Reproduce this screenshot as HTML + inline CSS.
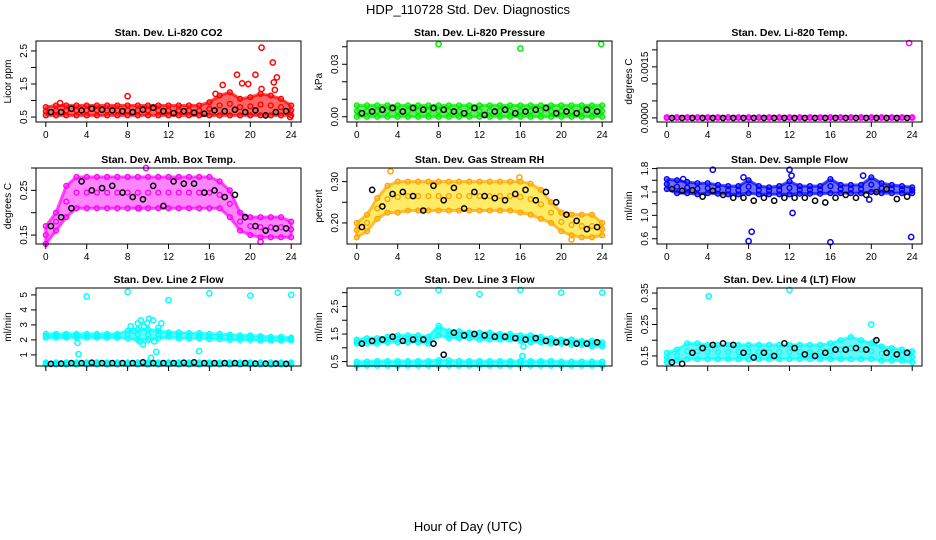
<!DOCTYPE html>
<html><head><meta charset="utf-8"><style>
html,body{margin:0;padding:0;background:#fff;}
svg{display:block;font-family:"Liberation Sans",Arial,sans-serif;}
</style></head><body>
<svg id="chart" width="936" height="540" viewBox="0 0 936 540">
<text x="468" y="14" text-anchor="middle" font-size="13">HDP_110728  Std. Dev. Diagnostics</text>
<text x="468" y="531" text-anchor="middle" font-size="13">Hour of Day (UTC)</text>
</svg>
<script>
const bandHours=[0,1,2,3,4,5,6,7,8,9,10,11,12,13,14,15,16,17,18,19,20,21,22,23,24];
const blackHours=[0.5,1.5,2.5,3.5,4.5,5.5,6.5,7.5,8.5,9.5,10.5,11.5,12.5,13.5,14.5,15.5,16.5,17.5,18.5,19.5,20.5,21.5,22.5,23.5];
const xTicks=[0,4,8,12,16,20,24];

const p1Lo=[0.55,0.55,0.55,0.55,0.55,0.55,0.55,0.55,0.55,0.55,0.55,0.55,0.55,0.55,0.55,0.55,0.55,0.55,0.55,0.55,0.55,0.55,0.55,0.55,0.55];
const p1Hi=[0.8,0.85,0.85,0.85,0.85,0.85,0.85,0.85,0.85,0.85,0.85,0.85,0.85,0.85,0.85,0.85,0.95,1.15,1.25,1.05,1.1,1.2,1.15,1.05,0.85];
const p1Black=[0.65,0.65,0.75,0.7,0.75,0.72,0.7,0.68,0.65,0.72,0.78,0.68,0.62,0.68,0.63,0.6,0.7,0.68,0.72,0.65,0.7,0.55,0.65,0.68];
const p1OutX=[1.4,8,16.6,17.3,18.7,19.2,19.8,20.5,21.1,21.1,22.2,22.3,22.6,22.4,23.9];
const p1OutY=[0.92,1.13,1.2,1.47,1.78,1.52,1.5,1.78,2.6,1.35,2.15,1.55,1.7,1.32,0.5];

const p2Lo=[0,0,0,0,0,0,0,0,0,0,0,0,0,0,0,0,0,0,0,0,0,0,0,0,0];
const p2Hi=[0.0065,0.0065,0.0065,0.0065,0.0065,0.0065,0.0065,0.0065,0.0065,0.0065,0.0065,0.0065,0.0065,0.0065,0.0065,0.0065,0.0065,0.0065,0.0065,0.0065,0.0065,0.0065,0.0065,0.0065,0.0065];
const p2Black=[0.002,0.003,0.004,0.005,0.003,0.005,0.004,0.005,0.004,0.003,0.002,0.005,0.001,0.003,0.004,0.002,0.003,0.004,0.005,0.002,0.003,0.002,0.004,0.003];
const p2OutX=[8,16,23.9];
const p2OutY=[0.0415,0.039,0.0415];

const p3Lo=[0,0,0,0,0,0,0,0,0,0,0,0,0,0,0,0,0,0,0,0,0,0,0,0,0];
const p3Hi=[0.00002,0.00002,0.00002,0.00002,0.00002,0.00002,0.00002,0.00002,0.00002,0.00002,0.00002,0.00002,0.00002,0.00002,0.00002,0.00002,0.00002,0.00002,0.00002,0.00002,0.00002,0.00002,0.00002,0.00002,0.00002];
const p3Black=[0,0,0,0,0,0,0,0,0,0,0,0,0,0,0,0,0,0,0,0,0,0,0,0];
const p3OutX=[23.7];
const p3OutY=[0.0022];

const p4Lo=[0.13,0.16,0.19,0.21,0.21,0.21,0.21,0.21,0.21,0.21,0.21,0.21,0.21,0.21,0.21,0.21,0.21,0.21,0.19,0.16,0.15,0.145,0.145,0.145,0.145];
const p4Hi=[0.17,0.2,0.26,0.28,0.28,0.28,0.28,0.28,0.28,0.28,0.28,0.28,0.28,0.28,0.28,0.28,0.28,0.27,0.25,0.2,0.19,0.19,0.19,0.19,0.18];
const p4Black=[0.17,0.19,0.21,0.27,0.25,0.255,0.26,0.245,0.235,0.23,0.26,0.215,0.27,0.265,0.265,0.245,0.25,0.235,0.24,0.19,0.17,0.16,0.165,0.165];
const p4OutX=[9.8,21,9.1];
const p4OutY=[0.30,0.135,0.21];

const p5Lo=[0.165,0.18,0.21,0.225,0.225,0.23,0.23,0.23,0.23,0.23,0.23,0.23,0.23,0.23,0.23,0.23,0.225,0.22,0.21,0.2,0.18,0.17,0.165,0.165,0.17];
const p5Hi=[0.2,0.22,0.26,0.29,0.3,0.3,0.3,0.3,0.3,0.3,0.3,0.3,0.3,0.3,0.3,0.3,0.3,0.295,0.28,0.25,0.225,0.22,0.22,0.22,0.2];
const p5Black=[0.19,0.28,0.24,0.27,0.275,0.265,0.23,0.29,0.255,0.285,0.235,0.275,0.265,0.26,0.255,0.27,0.28,0.255,0.275,0.25,0.22,0.205,0.185,0.19];
const p5OutX=[3.3,15.9,21];
const p5OutY=[0.325,0.31,0.16];

const p6Lo=[1.45,1.38,1.38,1.36,1.38,1.37,1.36,1.36,1.38,1.36,1.36,1.36,1.36,1.37,1.37,1.37,1.38,1.38,1.38,1.38,1.4,1.38,1.38,1.38,1.38];
const p6Hi=[1.62,1.6,1.57,1.55,1.55,1.52,1.5,1.5,1.6,1.5,1.48,1.5,1.58,1.5,1.5,1.5,1.62,1.52,1.52,1.52,1.65,1.55,1.52,1.5,1.48];
const p6Black=[1.45,1.42,1.43,1.32,1.42,1.35,1.3,1.3,1.25,1.3,1.25,1.3,1.3,1.3,1.25,1.22,1.3,1.35,1.3,1.35,1.4,1.45,1.28,1.32];
const p6OutX=[4.5,7.5,8,8.3,12,12.2,12.3,16,19.2,23.9,19.8,1.6];
const p6OutY=[1.78,1.65,0.56,0.72,1.78,1.68,1.04,0.54,1.68,0.63,1.27,1.62];

const p7Lo=[2.15,2.15,2.15,2.15,2.15,2.15,2.15,2.15,2.1,2.0,2.0,2.1,2.2,2.1,2.1,2.1,2.05,2.05,2.0,2.0,2.0,1.95,1.95,1.95,1.95];
const p7Hi=[2.4,2.4,2.4,2.4,2.4,2.4,2.4,2.4,2.6,2.7,2.7,2.6,2.5,2.5,2.45,2.45,2.4,2.4,2.35,2.3,2.3,2.25,2.2,2.2,2.15];
const p7Lo2=[0.35,0.35,0.35,0.35,0.35,0.35,0.35,0.35,0.35,0.35,0.35,0.35,0.35,0.35,0.35,0.35,0.35,0.35,0.35,0.35,0.35,0.35,0.35,0.35,0.35];
const p7Hi2=[0.5,0.5,0.5,0.5,0.5,0.5,0.5,0.5,0.5,0.5,0.5,0.5,0.5,0.5,0.5,0.5,0.5,0.5,0.5,0.5,0.5,0.5,0.5,0.5,0.5];
const p7Black=[0.4,0.42,0.45,0.45,0.48,0.45,0.45,0.45,0.45,0.5,0.45,0.45,0.45,0.48,0.5,0.45,0.45,0.45,0.45,0.45,0.42,0.42,0.42,0.4];
const p7OutX=[4,8,12,16,20,24,3.2,3.1,10.3,10.8,15,8.3,8.6,9,9.3,9.6,9.9,10.1,10.5,11,11.3,9.5,9.2,10.6];
const p7OutY=[4.9,5.2,4.65,5.1,4.95,5.0,1.05,1.8,0.8,1.2,1.25,2.9,2.6,3.1,3.3,2.9,3.1,3.4,3.3,2.8,3.1,1.7,1.9,1.9];

const p8Lo=[0.35,0.35,0.35,0.35,0.35,0.35,0.35,0.35,0.35,0.35,0.35,0.35,0.35,0.35,0.35,0.35,0.35,0.35,0.35,0.35,0.35,0.35,0.35,0.35,0.35];
const p8Hi=[0.5,0.5,0.52,0.52,0.52,0.52,0.52,0.52,0.55,0.55,0.52,0.52,0.52,0.52,0.52,0.52,0.52,0.52,0.52,0.52,0.5,0.5,0.5,0.5,0.5];
const p8Lo2=[1.15,1.15,1.15,1.2,1.2,1.2,1.2,1.15,1.45,1.35,1.35,1.35,1.3,1.3,1.3,1.3,1.25,1.2,1.2,1.15,1.15,1.1,1.1,1.05,1.05];
const p8Hi2=[1.3,1.35,1.35,1.4,1.45,1.45,1.45,1.4,1.8,1.6,1.6,1.55,1.55,1.55,1.5,1.5,1.45,1.45,1.4,1.35,1.3,1.3,1.25,1.25,1.2];
const p8Black=[1.15,1.25,1.3,1.4,1.25,1.3,1.3,1.15,0.75,1.55,1.45,1.5,1.45,1.4,1.4,1.35,1.3,1.35,1.25,1.2,1.2,1.15,1.15,1.2];
const p8OutX=[4,8,12,16,20,24,16.2,16.3];
const p8OutY=[3.0,3.1,2.95,3.1,3.0,3.0,0.7,1.05];

const p9Lo=[0.13,0.135,0.14,0.14,0.14,0.14,0.14,0.14,0.14,0.14,0.14,0.14,0.14,0.14,0.14,0.14,0.14,0.14,0.14,0.14,0.14,0.135,0.135,0.135,0.13];
const p9Hi=[0.16,0.17,0.19,0.19,0.185,0.185,0.185,0.185,0.185,0.185,0.185,0.185,0.185,0.185,0.185,0.185,0.19,0.2,0.21,0.2,0.19,0.18,0.175,0.17,0.165];
const p9Black=[0.13,0.125,0.16,0.175,0.185,0.19,0.185,0.16,0.145,0.16,0.15,0.19,0.175,0.155,0.15,0.16,0.17,0.17,0.175,0.17,0.2,0.16,0.155,0.16];
const p9OutX=[4.1,12,20,20.3];
const p9OutY=[0.34,0.36,0.25,0.195];

const panels=[
 {name:'co2',title:'Stan. Dev. Li-820 CO2',ylab:'Licor ppm',col:0,row:0,ymin:0.35,ymax:2.8,ticks:[0.5,1,1.5,2,2.5],labels:['0.5','','1.5','','2.5'],color:'#ff0000',fill:'#ff0000',lo:p1Lo,hi:p1Hi,black:p1Black,ox:p1OutX,oy:p1OutY},
 {name:'pressure',title:'Stan. Dev. Li-820 Pressure',ylab:'kPa',col:1,row:0,ymin:-0.003,ymax:0.0433,ticks:[0,0.01,0.02,0.03,0.04],labels:['0.00','','','0.03',''],color:'#00ee00',fill:'#00dd00',lo:p2Lo,hi:p2Hi,black:p2Black,ox:p2OutX,oy:p2OutY},
 {name:'li820-temp',title:'Stan. Dev. Li-820 Temp.',ylab:'degrees C',col:2,row:0,ymin:-0.00012,ymax:0.00226,ticks:[0,0.0005,0.001,0.0015,0.002],labels:['0.0000','','','0.0015',''],color:'#ff00ff',fill:'#ff00ff',lo:p3Lo,hi:p3Hi,black:p3Black,ox:p3OutX,oy:p3OutY},
 {name:'amb-box-temp',title:'Stan. Dev. Amb. Box Temp.',ylab:'degrees C',col:0,row:1,ymin:0.13,ymax:0.30,ticks:[0.15,0.2,0.25,0.3],labels:['0.15','','0.25',''],color:'#ff00ff',fill:'#ff33ff',lo:p4Lo,hi:p4Hi,black:p4Black,ox:p4OutX,oy:p4OutY},
 {name:'gas-stream-rh',title:'Stan. Dev. Gas Stream RH',ylab:'percent',col:1,row:1,ymin:0.149,ymax:0.333,ticks:[0.2,0.25,0.3],labels:['0.20','','0.30'],color:'#ffa500',fill:'#ffdd00',lo:p5Lo,hi:p5Hi,black:p5Black,ox:p5OutX,oy:p5OutY},
 {name:'sample-flow',title:'Stan. Dev. Sample Flow',ylab:'ml/min',col:2,row:1,ymin:0.51,ymax:1.81,ticks:[0.6,0.8,1,1.2,1.4,1.6,1.8],labels:['0.6','','1.0','','1.4','','1.8'],color:'#0000ff',fill:'#1010ee',lo:p6Lo,hi:p6Hi,black:p6Black,ox:p6OutX,oy:p6OutY},
 {name:'line2-flow',title:'Stan. Dev. Line 2 Flow',ylab:'ml/min',col:0,row:2,ymin:0.26,ymax:5.46,ticks:[1,2,3,4,5],labels:['1','2','3','4','5'],color:'#00ffff',fill:'#00eeee',lo:p7Lo,hi:p7Hi,lo2:p7Lo2,hi2:p7Hi2,black:p7Black,ox:p7OutX,oy:p7OutY,noX:true},
 {name:'line3-flow',title:'Stan. Dev. Line 3 Flow',ylab:'ml/min',col:1,row:2,ymin:0.34,ymax:3.17,ticks:[0.5,1,1.5,2,2.5,3],labels:['0.5','','1.5','','2.5',''],color:'#00ffff',fill:'#00eeee',lo:p8Lo,hi:p8Hi,lo2:p8Lo2,hi2:p8Hi2,black:p8Black,ox:p8OutX,oy:p8OutY,noX:true},
 {name:'line4-flow',title:'Stan. Dev. Line 4 (LT) Flow',ylab:'ml/min',col:2,row:2,ymin:0.118,ymax:0.366,ticks:[0.15,0.2,0.25,0.3,0.35],labels:['0.15','','0.25','','0.35'],color:'#00ffff',fill:'#00eeee',lo:p9Lo,hi:p9Hi,black:p9Black,ox:p9OutX,oy:p9OutY,noX:true}
];
const NS='http://www.w3.org/2000/svg';
const svg=document.getElementById('chart');
const boxL=[36,347,657], boxW=265;
const boxT=[41,168,288], boxB=[122,244,366];
function mk(tag,attrs,parent){const e=document.createElementNS(NS,tag);for(const k in attrs)e.setAttribute(k,attrs[k]);parent.appendChild(e);return e;}
panels.forEach(p=>{
  const L=boxL[p.col],R=L+boxW,T=boxT[p.row],B=boxB[p.row];
  const xs=h=>L+9.8+(h/24)*(boxW-19.6);
  const ys=v=>B-(v-p.ymin)/(p.ymax-p.ymin)*(B-T);
  const g=mk('g',{},svg);
  
  
  const cx=(L+R)/2;
  const t=mk('text',{x:cx,y:T-5,'text-anchor':'middle','font-size':'10.5','font-weight':'bold'},g);
  t.textContent=p.title;
  
  
  const yl=mk('text',{x:0,y:0,'text-anchor':'middle','font-size':'10',transform:`translate(${L-25},${(T+B)/2}) rotate(-90)`},g);
  yl.textContent=p.ylab;
  
  
  const clip=mk('g',{},g);
  function band(lo,hi,nm){
    let pts=bandHours.map((h,i)=>xs(h)+','+ys(hi[i]));
    pts=pts.concat(bandHours.map((h,i)=>xs(h)+','+ys(lo[i])).reverse());
    const pg=mk('polygon',{points:pts.join(' '),fill:p.fill,'fill-opacity':0.6,stroke:p.color,'stroke-opacity':0.7,'stroke-width':3,'stroke-linejoin':'round'},clip);
    
    
    bandHours.forEach((h,i)=>{
      [lo[i],hi[i],(lo[i]+hi[i])/2].forEach(v=>{
        const c=mk('circle',{cx:xs(h),cy:ys(v),r:2.4,fill:'none',stroke:p.color,'stroke-width':1.4},clip);
        
        
      });
    });
  }
  band(p.lo,p.hi,'color-band');
  if(p.lo2) band(p.lo2,p.hi2,'color-band-2');
  p.ox.forEach((h,i)=>{
    const c=mk('circle',{cx:xs(h),cy:ys(p.oy[i]),r:2.6,fill:'none',stroke:p.color,'stroke-width':1.5},clip);
    
    
  });
  blackHours.forEach((h,i)=>{
    const c=mk('circle',{cx:xs(h),cy:ys(p.black[i]),r:2.6,fill:'none',stroke:'#000','stroke-width':1.5},clip);
    
    
  });
  const box=mk('rect',{x:L,y:T,width:boxW,height:B-T,fill:'none',stroke:'#000','stroke-width':1},g);
  
  
  xTicks.forEach(h=>{
    mk('line',{x1:xs(h),x2:xs(h),y1:B,y2:B+5,stroke:'#000'},g);
    if(!p.noX){
      const tx=mk('text',{x:xs(h),y:B+16,'text-anchor':'middle','font-size':'10'},g);
      tx.textContent=String(h);
      
      
    }
  });
  p.ticks.forEach((v,i)=>{
    mk('line',{x1:L-5,x2:L,y1:ys(v),y2:ys(v),stroke:'#000'},g);
    if(p.labels[i]){
      const tl=mk('text',{x:0,y:0,'text-anchor':'middle','font-size':'10',transform:`translate(${L-9},${ys(v)}) rotate(-90)`},g);
      tl.textContent=p.labels[i];
      
      
    }
  });
});
</script>
</body></html>
